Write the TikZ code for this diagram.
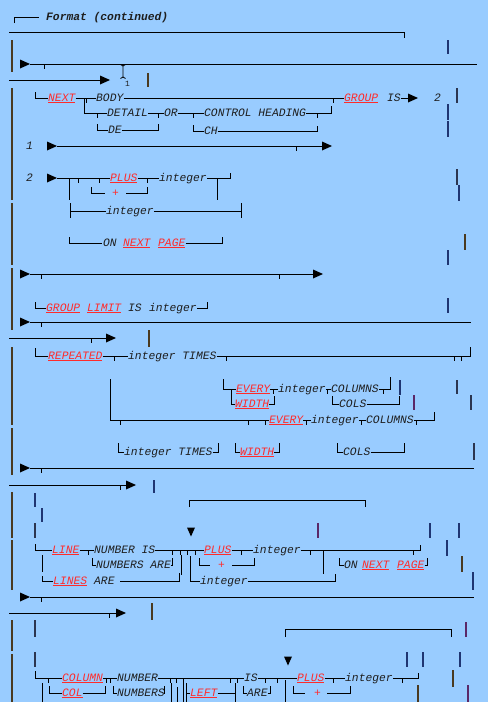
\documentclass[tikz,border=0pt]{standalone}
\usepackage{fontspec}
\newfontfamily\cmono{Liberation Mono}
\definecolor{bg}{HTML}{99CCFF}
\definecolor{tx}{HTML}{1E1E1E}
\definecolor{kr}{HTML}{FF2B2B}
\definecolor{bbrown}{HTML}{4A3A20}
\definecolor{bnavy}{HTML}{1F3572}
\definecolor{bpurp}{HTML}{5A2868}
\definecolor{bdark}{HTML}{2B3550}
\newcommand{\tk}[2]{\draw[ln] (#1,#2) -- (#1,#2+5);}
\newcommand{\vb}[4]{\draw[bar,#1] (#2,#3) -- (#2,#4);}
\newcommand{\rarr}[2]{\fill[black] (#1,#2-4.5) -- (#1+10,#2) -- (#1,#2+4.5) -- cycle;}
\newcommand{\darr}[2]{\fill[black] (#1-4,#2-4.5) -- (#1+4,#2-4.5) -- (#1,#2+4.5) -- cycle;}
\begin{document}
\begin{tikzpicture}[x=1pt,y=-1pt,
 ln/.style={line width=1pt,black},
 bar/.style={line width=2pt},
 txt/.style={font=\cmono\itshape\fontsize{11.3}{13}\selectfont,text=tx,inner sep=0pt,anchor=west,text height=8pt,text depth=2pt},
 kw/.style={txt,text=kr},
 ttl/.style={txt,font=\cmono\bfseries\itshape\fontsize{11.3}{13}\selectfont}]
\useasboundingbox (0,0) rectangle (488,702);
\fill[bg] (0,0) rectangle (488,702);
% title
\draw[ln] (14,23) |- (39,17);
\node[ttl] (title) at (46,17) {Format (continued)};
\draw[ln] (9,32) -| (404,38);
% left margin bars
\vb{bbrown}{12}{40}{72}
\vb{bbrown}{12}{88}{200}
\vb{bbrown}{12}{203}{265}
\vb{bbrown}{12}{268}{330}
\vb{bbrown}{12}{347}{425}
\vb{bbrown}{12}{428}{475}
\vb{bbrown}{12}{492}{538}
\vb{bbrown}{12}{540}{590}
\vb{bbrown}{12}{620}{651}
\vb{bbrown}{12}{654}{702}
% right bars
\vb{bnavy}{448}{40}{54}
\vb{bdark}{457}{88}{103}
\vb{bnavy}{448}{104}{120}
\vb{bnavy}{448}{121}{137}
\vb{bdark}{457}{169}{185}
\vb{bnavy}{459}{185}{201}
\vb{bbrown}{465}{234}{250}
\vb{bnavy}{448}{250}{265}
\vb{bnavy}{448}{298}{313}
\vb{bdark}{457}{380}{394}
\vb{bnavy}{400}{380}{395}
\vb{bpurp}{414}{395}{410}
\vb{bdark}{471}{395}{410}
\vb{bdark}{474}{443}{460}
\vb{bpurp}{318}{523}{538}
\vb{bnavy}{430}{523}{538}
\vb{bnavy}{459}{523}{538}
\vb{bnavy}{447}{540}{556}
\vb{bbrown}{462}{556}{572}
\vb{bnavy}{473}{572}{590}
\vb{bpurp}{466}{622}{637}
\vb{bnavy}{407}{652}{667}
\vb{bnavy}{423}{652}{667}
\vb{bnavy}{460}{652}{667}
\vb{bbrown}{453}{670}{687}
\vb{bpurp}{468}{685}{702}
\vb{bbrown}{418}{685}{702}
% small bars middle
\vb{bbrown}{148}{73}{87}
\vb{bbrown}{149}{330}{347}
\vb{bnavy}{154}{480}{493}
\vb{bbrown}{152}{603}{620}
% row 64
\rarr{20}{64}
\draw[ln] (30,64) -- (477,64); \tk{44}{64}
\draw[line width=0.8pt] (120.5,64.5) -- (123,66) -- (125.5,64.5) (123,66) -- (123,77) (120.5,78.5) -- (123,77) -- (125.5,78.5);
% row 80
\draw[ln] (9,80) -- (100,80); \rarr{100}{80}
\node[txt,font=\cmono\fontsize{8}{9}\selectfont] (one) at (125,83) {1};
% row 98
\draw[ln] (35,92) |- (48,98);
\node[kw] (next1) at (48,98) {\underline{NEXT}};
\node[txt] (body) at (96,98) {BODY};
\draw[ln] (next1.east) -- (body.west); \tk{86}{98}
\node[kw] (group1) at (344,98) {\underline{GROUP}};
\draw[ln] (body.east) -- (group1.west); \tk{333}{98}
\node[txt] (is1) at (387,98) {IS};
\draw[ln] (is1.east) -- (408,98); \rarr{408}{98}
\node[txt] (two1) at (434,98) {2};
% row 113
\draw[ln] (84,98) |- (107,113);
\node[txt] (detail) at (107,113) {DETAIL};
\node[txt] (or) at (164,113) {OR};
\node[txt] (ctrl) at (204,113) {CONTROL HEADING};
\draw[ln] (detail.east) -- (or.west); \tk{158}{113}
\draw[ln] (or.east) -- (ctrl.west); \tk{193}{113}
\draw[ln] (ctrl.east) -| (331,106);
\tk{97}{113} \tk{317}{113}
% row 130
\draw[ln] (97,124) |- (108,130);
\node[txt] (de) at (108,130) {DE};
\draw[ln] (de.east) -| (158,124);
\draw[ln] (193,125) |- (204,131);
\node[txt] (ch) at (204,131) {CH};
\draw[ln] (ch.east) -| (317,126);
% row 146
\node[txt] (n1) at (26,146) {1};
\rarr{47}{146}
\draw[ln] (57,146) -- (322,146); \tk{296}{146}
\rarr{322}{146}
% row 178
\node[txt] (n2) at (26,178) {2};
\rarr{47}{178}
\node[kw] (plus1) at (110,178) {\underline{PLUS}};
\draw[ln] (57,178) -- (plus1.west); \tk{78}{178} \tk{99}{178}
\draw[ln] (69,178) -- (69,200);
\node[txt] (int1) at (159,178) {integer};
\draw[ln] (plus1.east) -- (int1.west); \tk{147}{178}
\draw[ln] (int1.east) -| (230,173);
\draw[ln] (217,178) -- (217,200);
\draw[ln] (91,187) |- (105,193);
\node[kw] (plus2) at (112,193) {+};
\draw[ln] (126,193) -| (147,187);
\draw[ln] (70,203) -- (70,218);
\node[txt] (int2) at (106,211) {integer};
\draw[ln] (70,211) -- (int2.west);
\draw[ln] (int2.east) -- (241,211);
\draw[ln] (241,203) -- (241,218);
\draw[ln] (69,237) |- (102,243);
\node[txt] (on1) at (103,243) {ON};
\node[kw] (next2) at (123,243) {\underline{NEXT}};
\node[kw] (page1) at (158,243) {\underline{PAGE}};
\draw[ln] (page1.east) -| (222,237);
% row 274
\rarr{20}{274}
\draw[ln] (30,274) -- (313,274); \tk{41}{274} \tk{279}{274}
\rarr{313}{274}
% row 308
\draw[ln] (35,302) |- (46,308);
\node[kw] (group2) at (46,308) {\underline{GROUP}};
\node[kw] (limit) at (87,308) {\underline{LIMIT}};
\node[txt] (is2) at (128,308) {IS};
\node[txt] (int3) at (149,308) {integer};
\draw[ln] (int3.east) -| (207,302);
% row 322
\rarr{20}{322}
\draw[ln] (30,322) -- (471,322); \tk{41}{322}
% row 338
\draw[ln] (9,338) -- (106,338); \tk{91}{338}
\rarr{106}{338}
% row 356
\draw[ln] (35,348) |- (48,356);
\node[kw] (rep) at (48,356) {\underline{REPEATED}};
\node[txt] (itimes1) at (128,356) {integer TIMES};
\draw[ln] (rep.east) -- (itimes1.west); \tk{114}{356}
\draw[ln] (itimes1.east) -- (470,356) -- (470,347);
\tk{226}{356} \tk{454}{356} \tk{461}{356}
% row 389
\draw[ln] (223,379) |- (236,389);
\draw[ln] (231,389) |- (235,404);
\node[kw] (every1) at (236,389) {\underline{EVERY}};
\node[txt] (int4) at (278,389) {integer};
\node[txt] (colm1) at (331,389) {COLUMNS};
\draw[ln] (every1.east) -- (int4.west); \tk{273}{389}
\draw[ln] (int4.east) -- (colm1.west); \tk{327}{389}
\draw[ln] (colm1.east) -| (390,377); \tk{383}{389}
\node[kw] (width1) at (235,404) {\underline{WIDTH}};
\draw[ln] (width1.east) -| (274,396);
\draw[ln] (332,396) |- (339,404);
\node[txt] (cols1) at (339,404) {COLS};
\draw[ln] (cols1.east) -| (399,396);
% row 420
\draw[ln] (110,379) |- (269,420); \tk{120}{420} \tk{248}{420} \tk{265}{420}
\node[kw] (every2) at (269,420) {\underline{EVERY}};
\node[txt] (int5) at (311,420) {integer};
\node[txt] (colm2) at (366,420) {COLUMNS};
\draw[ln] (every2.east) -- (int5.west); \tk{306}{420}
\draw[ln] (int5.east) -- (colm2.west); \tk{361}{420}
\draw[ln] (colm2.east) -| (434,412); \tk{416}{420}
% row 452
\draw[ln] (118,443) |- (124,452);
\node[txt] (itimes2) at (124,452) {integer TIMES};
\draw[ln] (itimes2.east) -| (218,443);
\draw[ln] (235,443) |- (240,452);
\node[kw] (width2) at (240,452) {\underline{WIDTH}};
\draw[ln] (width2.east) -| (279,443);
\draw[ln] (337,443) |- (343,452);
\node[txt] (cols2) at (343,452) {COLS};
\draw[ln] (cols2.east) -| (404,443);
% row 468
\rarr{20}{468}
\draw[ln] (30,468) -- (474,468); \tk{41}{468}
% row 485
\draw[ln] (9,485) -- (126,485); \tk{120}{485}
\rarr{126}{485}
\vb{bnavy}{35}{493}{507}
\vb{bnavy}{42}{508}{522}
\vb{bdark}{35}{523}{538}
\draw[ln] (189,507) |- (365,500) -- (365,507);
\darr{191}{532}
% row 550
\draw[ln] (35,544) |- (52,550);
\node[kw] (line1) at (52,550) {\underline{LINE}};
\node[txt] (numis) at (94,550) {NUMBER IS};
\draw[ln] (line1.east) -- (numis.west); \tk{88}{550}
\node[kw] (plus3) at (204,550) {\underline{PLUS}};
\draw[ln] (numis.east) -- (plus3.west); \tk{172}{550} \tk{180}{550} \tk{187}{550} \tk{195}{550}
\node[txt] (int6) at (253,550) {integer};
\draw[ln] (plus3.east) -- (int6.west); \tk{241}{550}
\draw[ln] (int6.east) -| (420,545); \tk{310}{550} \tk{413}{550}
\draw[ln] (323,550) -- (323,574);
\draw[ln] (181,555) -- (181,575);
% row 565
\draw[ln] (92,558) |- (96,565);
\node[txt] (numare) at (96,565) {NUMBERS ARE};
\draw[ln] (numare.east) -| (172,558);
\draw[ln] (199,558) |- (210,565);
\node[kw] (plus4) at (218,565) {+};
\draw[ln] (232,565) -| (254,558);
\draw[ln] (339,558) |- (344,565);
\node[txt] (on2) at (344,565) {ON};
\node[kw] (next3) at (362,565) {\underline{NEXT}};
\node[kw] (page2) at (397,565) {\underline{PAGE}};
\draw[ln] (page2.east) -| (427,558);
% row 581
\draw[ln] (42,555) -- (42,572);
\draw[ln] (42,576) |- (53,581);
\node[kw] (lines) at (53,581) {\underline{LINES}};
\node[txt] (are1) at (94,581) {ARE};
\draw[ln] (120,581) -| (179,573);
\draw[ln] (190,556) |- (200,581);
\node[txt] (int7) at (200,581) {integer};
\draw[ln] (int7.east) -| (335,574);
% row 597
\rarr{20}{597}
\draw[ln] (30,597) -- (474,597); \tk{41}{597}
% row 613
\draw[ln] (9,613) -- (116,613); \tk{109}{613}
\rarr{116}{613}
\vb{bdark}{35}{620}{637}
\vb{bdark}{35}{652}{667}
\draw[ln] (285,637) |- (451,629) -- (451,637);
\darr{288}{661}
% row 678
\draw[ln] (35,671) |- (62,678); \draw[ln] (48,678) -- (48,683);
\node[kw] (column) at (62,678) {\underline{COLUMN}};
\node[txt] (number) at (117,678) {NUMBER};
\draw[ln] (column.east) -- (number.west); \tk{106}{678} \tk{110}{678}
\node[txt] (is3) at (244,678) {IS};
\draw[ln] (number.east) -- (is3.west); \tk{170}{678} \tk{176}{678} \tk{183}{678} \tk{230}{678} \tk{237}{678}
\node[kw] (plus5) at (297,678) {\underline{PLUS}};
\draw[ln] (is3.east) -- (plus5.west); \tk{265}{678} \tk{277}{678}
\node[txt] (int8) at (345,678) {integer};
\draw[ln] (plus5.east) -- (int8.west); \tk{333}{678}
\draw[ln] (int8.east) -| (418,673); \tk{402}{678}
% row 693
\draw[ln] (49,686) |- (62,693);
\node[kw] (col) at (62,693) {\underline{COL}};
\draw[ln] (col.east) -| (105,686);
\draw[ln] (113,686) |- (117,693);
\node[txt] (numbers) at (117,693) {NUMBERS};
\draw[ln] (numbers.east) -| (164,686);
\draw[ln] (42,683) -- (42,702);
\draw[ln] (171,683) -- (171,702);
\draw[ln] (177,687) -- (177,702);
\draw[ln] (183,683) -- (183,702);
\draw[ln] (186,683) -- (186,702);
\node[kw] (left) at (190,693) {\underline{LEFT}};
\draw[ln] (186,693) -- (left.west);
\draw[ln] (left.east) -- (235,693);
\draw[ln] (235,683) -- (235,702);
\draw[ln] (243,686) |- (247,693);
\node[txt] (are2) at (247,693) {ARE};
\draw[ln] (are2.east) -| (270,686);
\draw[ln] (285,680) -- (285,702);
\draw[ln] (293,686) |- (305,693);
\node[kw] (plus6) at (314,693) {+};
\draw[ln] (327,693) -| (350,686);
\end{tikzpicture}
\end{document}
